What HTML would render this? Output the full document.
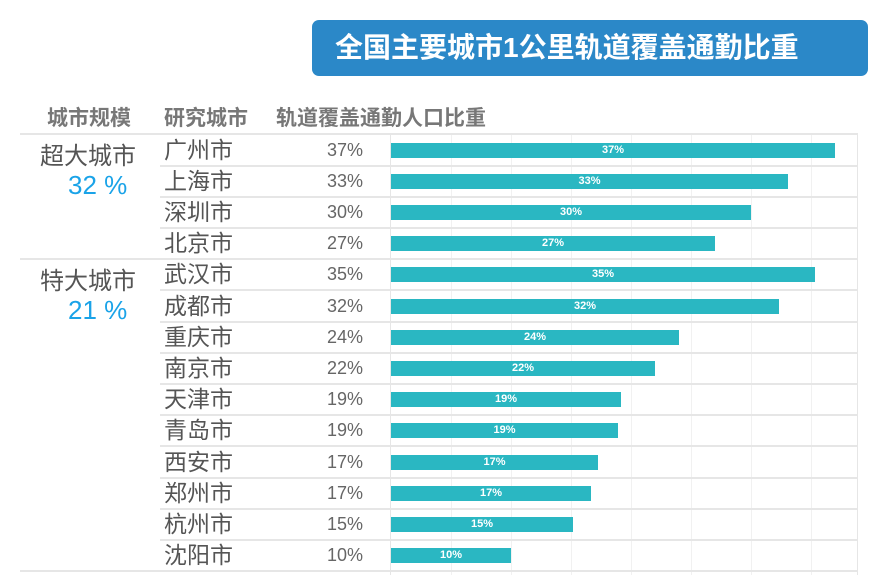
<!DOCTYPE html>
<html><head><meta charset="utf-8"><style>
body{margin:0;width:871px;height:577px;background:#fff;position:relative;overflow:hidden;font-family:"Liberation Sans","Noto Sans CJK SC",sans-serif}
.a{position:absolute;white-space:nowrap}
.t{left:312px;top:20px;width:556px;height:56px;background:#2b88c8;border-radius:7px;color:#fff;font-weight:bold;font-size:28px;line-height:56px;text-indent:23px}
.h{font-size:21px;font-weight:bold;color:#777;top:102px}
.c{font-size:23px;color:#555;left:164px;line-height:31px}
.p{font-size:18px;color:#666;width:70px;text-align:right;left:293px;line-height:31px}
.b{background:#2ab7c2;height:15px;left:391px;color:#fff;font-size:11px;font-weight:bold;text-align:center;line-height:15px}
.hl{height:2px;background:#e6e6e6;right:13px}
.v{width:1px;background:#f1f1f1;top:135px;height:440px}
.g{font-size:24px;color:#555;left:40px}
.n{font-size:26px;color:#1aa3e8;left:68px}
</style></head><body>
<div class="a t">全国主要城市1公里轨道覆盖通勤比重</div>
<div class="a h" style="left:47px">城市规模</div>
<div class="a h" style="left:164px">研究城市</div>
<div class="a h" style="left:276px">轨道覆盖通勤人口比重</div>
<div class="a v" style="left:451px"></div><div class="a v" style="left:511px"></div><div class="a v" style="left:571px"></div><div class="a v" style="left:631px"></div><div class="a v" style="left:691px"></div><div class="a v" style="left:751px"></div><div class="a v" style="left:811px"></div>
<div class="a v" style="left:390px;background:#e6e6e6"></div>
<div class="a v" style="left:857px;background:#e6e6e6"></div>
<div id="r"></div>
<div class="a g" style="top:136px">超大城市</div>
<div class="a n" style="top:170px">32 %</div>
<div class="a g" style="top:261px">特大城市</div>
<div class="a n" style="top:295px">21 %</div>
<script>
var d=[["广州市",37,444],["上海市",33,397],["深圳市",30,360],["北京市",27,324],["武汉市",35,424],["成都市",32,388],["重庆市",24,288],["南京市",22,264],["天津市",19,230],["青岛市",19,227],["西安市",17,207],["郑州市",17,200],["杭州市",15,182],["沈阳市",10,120]];
var h='<div class="a hl" style="left:20px;top:133px"></div>';
d.forEach(function(x,i){var c=150+i*31.2;var top=c-15.5;
h+='<div class="a c" style="top:'+top+'px">'+x[0]+'</div>';
h+='<div class="a p" style="top:'+top+'px">'+x[1]+'%</div>';
h+='<div class="a b" style="top:'+(c-7.5)+'px;width:'+x[2]+'px">'+x[1]+'%</div>';
var ly=c+15.6-1;var l=(i==3||i==13)?20:160;
h+='<div class="a hl" style="left:'+l+'px;top:'+ly+'px"></div>';});
document.getElementById('r').innerHTML=h;
</script>
</body></html>
